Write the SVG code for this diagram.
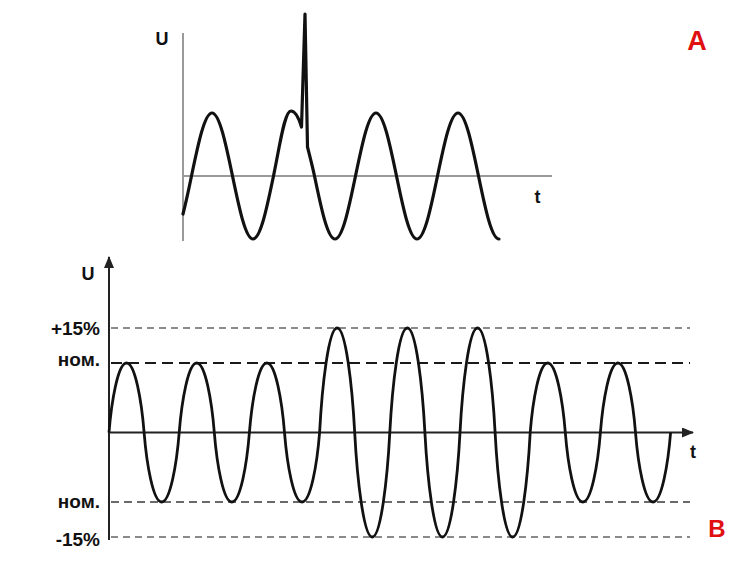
<svg xmlns="http://www.w3.org/2000/svg" width="750" height="563" viewBox="0 0 750 563">
<style>
  .lbl { font-family: "Liberation Sans", Arial, sans-serif; font-weight: bold; fill: #111; }
  .red { font-family: "Liberation Sans", Arial, sans-serif; font-weight: bold; fill: #e01010; }
  .axA { stroke: #9a9a9a; stroke-width: 2; fill: none; }
  .axB { stroke: #222; stroke-width: 2; fill: none; }
  .wave { stroke: #111; stroke-width: 3.2; fill: none; stroke-linecap: round; stroke-linejoin: round; }
  .waveB { stroke: #111; stroke-width: 2.8; fill: none; stroke-linejoin: round; }
  .lim { stroke: #8a8a8a; stroke-width: 2; stroke-dasharray: 7 5; fill: none; }
  .nomTop { stroke: #1a1a1a; stroke-width: 2; stroke-dasharray: 11 6; fill: none; }
  .nomBot { stroke: #6a6a6a; stroke-width: 2; stroke-dasharray: 8 5; fill: none; }
</style>
<defs>
  <marker id="arrow" viewBox="0 0 12 10" refX="11" refY="5" markerWidth="12" markerHeight="10" markerUnits="userSpaceOnUse" orient="auto">
    <path d="M0,0 L12,5 L0,10 Z" fill="#222"/>
  </marker>
</defs>
<rect width="750" height="563" fill="#ffffff"/>

<g id="graph-a">
  <line class="axA" x1="183" y1="33" x2="183" y2="241"/>
  <line class="axA" x1="183" y1="176" x2="552" y2="176" stroke-width="1.6"/>
  <path class="wave" d="M183,214 C185.8,203.1 188.7,189.7 191.5,176
    C198.2,143.7 204.6,113 212,113
    C219.4,113 225.8,143.7 232.5,176
    C239.2,208.3 245.6,239 253,239
    C260.4,239 266.8,208.3 273.5,176
    C280.2,143.7 284.5,111 291,111
    C295,111 298.5,117 301.5,127
    L305,14 L307.5,147
    C309.8,156 312.2,165 314.5,176
    C321.2,208.3 327.6,239 335,239
    C342.4,239 348.8,208.3 355.5,176
    C362.2,143.7 368.6,113 376,113
    C383.4,113 389.8,143.7 396.5,176
    C403.2,208.3 409.6,239 417,239
    C424.4,239 430.8,208.3 437.5,176
    C444.2,143.7 450.6,113 458,113
    C465.4,113 471.8,143.7 478.5,176
    C485.2,208.3 491.6,239 499,239"/>
  <text class="lbl" x="162" y="45" font-size="18" text-anchor="middle">U</text>
  <text class="lbl" x="537.5" y="203" font-size="18" text-anchor="middle">t</text>
  <text class="red" x="697" y="50" font-size="27" text-anchor="middle">A</text>
</g>

<g id="graph-b">
  <g id="limits">
    <line class="lim" x1="111" y1="328" x2="690" y2="328"/>
    <line class="nomTop" x1="111" y1="363" x2="690" y2="363"/>
    <line class="nomBot" x1="111" y1="502" x2="690" y2="502"/>
    <line class="lim" x1="111" y1="537" x2="690" y2="537"/>
  </g>
  <g id="axes-b">
    <line class="axB" x1="109" y1="540" x2="109" y2="257" marker-end="url(#arrow)"/>
    <line class="axB" x1="109" y1="432.5" x2="693" y2="432.5" marker-end="url(#arrow)"/>
  </g>
  <path class="waveB" d="M109,432.5
    c2.5,-31.3 9,-69.5 17.55,-69.5 c8.55,0 15.05,38.2 17.55,69.5
    c2.5,31.3 9,69.5 17.55,69.5 c8.55,0 15.05,-38.2 17.55,-69.5
    c2.5,-31.3 9,-69.5 17.55,-69.5 c8.55,0 15.05,38.2 17.55,69.5
    c2.5,31.3 9,69.5 17.55,69.5 c8.55,0 15.05,-38.2 17.55,-69.5
    c2.5,-31.3 9,-69.5 17.55,-69.5 c8.55,0 15.05,38.2 17.55,69.5
    c2.5,31.3 9,69.5 17.55,69.5 c8.55,0 15.05,-38.2 17.55,-69.5
    c2.5,-47 9,-104.5 17.55,-104.5 c8.55,0 15.05,57.5 17.55,104.5
    c2.5,47 9,104.5 17.55,104.5 c8.55,0 15.05,-57.5 17.55,-104.5
    c2.5,-47 9,-104.5 17.55,-104.5 c8.55,0 15.05,57.5 17.55,104.5
    c2.5,47 9,104.5 17.55,104.5 c8.55,0 15.05,-57.5 17.55,-104.5
    c2.5,-47 9,-104.5 17.55,-104.5 c8.55,0 15.05,57.5 17.55,104.5
    c2.5,47 9,104.5 17.55,104.5 c8.55,0 15.05,-57.5 17.55,-104.5
    c2.5,-31.3 9,-69.5 17.55,-69.5 c8.55,0 15.05,38.2 17.55,69.5
    c2.5,31.3 9,69.5 17.55,69.5 c8.55,0 15.05,-38.2 17.55,-69.5
    c2.5,-31.3 9,-69.5 17.55,-69.5 c8.55,0 15.05,38.2 17.55,69.5
    c2.5,31.3 9,69.5 17.55,69.5 c8.55,0 15.05,-38.2 17.55,-69.5"/>
  <text class="lbl" x="88" y="280" font-size="18" text-anchor="middle">U</text>
  <text class="lbl" x="100" y="335" font-size="19" text-anchor="end">+15%</text>
  <text class="lbl" x="100" y="366" font-size="19" text-anchor="end">ном.</text>
  <text class="lbl" x="100" y="508" font-size="19" text-anchor="end">ном.</text>
  <text class="lbl" x="100" y="546" font-size="19" text-anchor="end">-15%</text>
  <text class="lbl" x="693" y="458" font-size="18" text-anchor="middle">t</text>
  <text class="red" x="717" y="537" font-size="24" text-anchor="middle">B</text>
</g>
</svg>
